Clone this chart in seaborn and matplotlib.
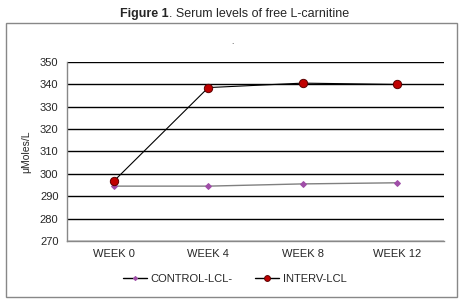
import matplotlib
matplotlib.use("Agg")
import matplotlib.pyplot as plt
import seaborn as sns
import pandas as pd
from matplotlib.patches import Rectangle

weeks = ["WEEK 0", "WEEK 4", "WEEK 8", "WEEK 12"]
control = [294.5, 294.5, 295.5, 296.0]
interv = [296.8, 338.6, 340.6, 340.0]

df = pd.DataFrame({
    "week": weeks * 2,
    "value": control + interv,
    "group": ["CONTROL-LCL-"] * 4 + ["INTERV-LCL"] * 4,
})

sns.set_style("white")
plt.rcParams['font.family'] = ['Liberation Sans', 'DejaVu Sans']

fig = plt.figure(figsize=(4.64, 3.03), dpi=100)
ax = fig.add_axes([0.144, 0.205, 0.813, 0.59])

sns.lineplot(data=df[df.group == "CONTROL-LCL-"], x="week", y="value", ax=ax,
             color="#808080", lw=1.0, marker="D", markersize=3,
             markerfacecolor="#A04EA8", markeredgecolor="#A04EA8",
             label="CONTROL-LCL-", sort=False)
sns.lineplot(data=df[df.group == "INTERV-LCL"], x="week", y="value", ax=ax,
             color="black", lw=0.8, marker="o", markersize=6,
             markerfacecolor="#C00000", markeredgecolor="#5a0000",
             markeredgewidth=0.7, label="INTERV-LCL", sort=False)

ax.set_xlim(-0.5, 3.5)
ax.set_ylim(270, 350)
ax.set_yticks(range(270, 351, 10))
ax.yaxis.grid(True, color="black", lw=1.0)
ax.set_axisbelow(True)
ax.tick_params(axis="both", labelsize=8, length=0, pad=6)
ax.set_xlabel("")
ax.set_ylabel("μMoles/L", fontsize=7.5, labelpad=6)

for s in ["top", "right"]:
    ax.spines[s].set_visible(False)
for s in ["left", "bottom"]:
    ax.spines[s].set_color("#888888")
    ax.spines[s].set_linewidth(1.0)

leg = ax.legend(loc="upper center", bbox_to_anchor=(0.445, -0.13), ncol=2,
                frameon=False, fontsize=8, handlelength=2.2,
                columnspacing=2.0, handletextpad=0.3)
for h in leg.get_lines():
    h.set_color("black")
    h.set_linewidth(1.0)
    h.set_markersize(h.get_markersize() * 0.7)

fig.patches.append(Rectangle((0.012, 0.02), 0.973, 0.905, transform=fig.transFigure,
                             fill=False, edgecolor="#888888", lw=1.0))

# title: bold "Figure 1" followed by normal text
t1 = fig.text(0.259, 0.955, "Figure 1", ha="left", va="center",
              fontsize=9, fontweight="bold")
ax.annotate(". Serum levels of free L-carnitine", xy=(1, 0.5), xycoords=t1,
            ha="left", va="center", fontsize=9, annotation_clip=False)
fig.text(0.5, 0.86, ".", ha="center", va="center", fontsize=6)

fig.savefig("out.png", dpi=100)
